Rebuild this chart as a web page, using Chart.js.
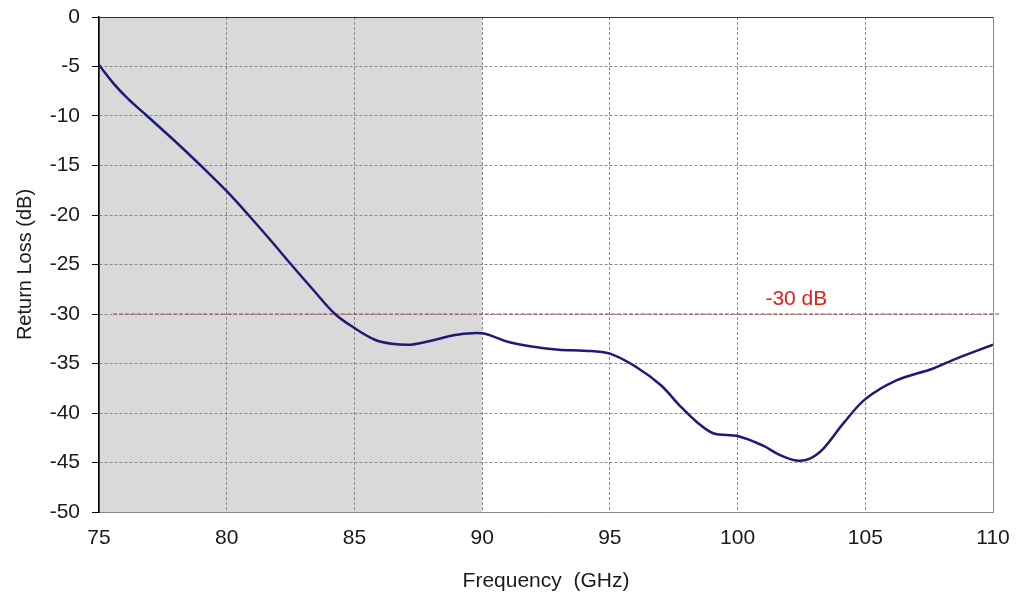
<!DOCTYPE html>
<html>
<head>
<meta charset="utf-8">
<script src="https://cdn.jsdelivr.net/npm/chart.js@4/dist/chart.umd.min.js"></script>
<style>
  html,body{margin:0;padding:0;background:#fff;}
  #wrap{width:1020px;height:599px;}
</style>
</head>
<body>
<div id="wrap"><canvas id="myChart" width="1020" height="599"></canvas></div>
<script>
'use strict';
const freq=[75,75.6,76.15,76.8,78,78.9,80,80.85,81.7,82.54,83.4,84.24,85.02,85.8,86.45,87.2,88,89,90,91,92,93,94,95,96,97,97.75,98.4,99.05,100.03,101,101.66,102.31,102.83,103.36,104.14,105,106.22,107.66,108.57,110];
const returnLoss=[-4.85,-6.8,-8.3,-9.8,-12.6,-14.8,-17.6,-20,-22.5,-25.05,-27.6,-30,-31.45,-32.6,-33.0,-33.1,-32.7,-32.1,-31.95,-32.8,-33.3,-33.6,-33.7,-34.0,-35.3,-37.2,-39.3,-40.9,-42.05,-42.35,-43.3,-44.25,-44.8,-44.6,-43.6,-41.05,-38.6,-36.7,-35.5,-34.5,-33.1];

const limitX=[75.55,110.27];
const limitY=[-30,-30];
const limitLabel='-30 dB';
const limitLabelAt=[102.3,-28.55];

const shadeFrom=75;
const shadeTo=90;

const xMin=75, xMax=110, xStep=5;
const yMin=-50, yMax=0, yStep=5;

const fontFamily='"Liberation Sans", Arial, sans-serif';

let curve=[];
for (let i = 0; i < freq.length; i++) {
  curve.push({x:freq[i],y:returnLoss[i]});
}
let limit=[];
for (let i = 0; i < limitX.length; i++) {
  limit.push({x:limitX[i],y:limitY[i]});
}

// gray band behind the grid + the red "-30 dB" text
const extras={
  id:'extras',
  beforeDraw(chart){
    const {ctx,scales:{x,y}}=chart;
    ctx.save();
    ctx.fillStyle='#d9d9d9';
    let left=x.getPixelForValue(shadeFrom);
    let right=x.getPixelForValue(shadeTo);
    ctx.fillRect(left,y.top,right-left,y.bottom-y.top);
    ctx.restore();
  },
  afterDraw(chart){
    const {ctx,scales:{x,y}}=chart;
    ctx.save();
    ctx.fillStyle='#e0201c';
    ctx.font='21px '+fontFamily;
    ctx.textAlign='center';
    ctx.textBaseline='middle';
    ctx.fillText(limitLabel,x.getPixelForValue(limitLabelAt[0]),y.getPixelForValue(limitLabelAt[1]));
    ctx.restore();
  }
};

function edgeDash(ctx){
  if(ctx.tick && (ctx.index===0 || ctx.index===ctx.scale.ticks.length-1)) return [];
  return [3,2];
}

Chart.defaults.font.family=fontFamily;
Chart.defaults.color='#1a1a1a';

let ctx=document.getElementById('myChart').getContext('2d');
let chart=new Chart(ctx,{
  type:'line',
  data:{
    datasets:[{
      label:'Return loss',
      data:curve,
      borderColor:'#1c1c78',
      borderWidth:2.5,
      pointRadius:0,
      tension:0.35,
      fill:false
    },
    {
      label:'Limit',
      data:limit,
      borderColor:'#b83a3a',
      borderWidth:1.2,
      borderDash:[4,2],
      pointRadius:0,
      clip:false,
      fill:false
    }]
  },
  options:{
    responsive:false,
    animation:false,
    layout:{padding:{left:13,right:27,top:17,bottom:0}},
    plugins:{legend:{display:false},tooltip:{enabled:false}},
    scales:{
      x:{
        type:'linear',
        min:xMin,max:xMax,
        ticks:{stepSize:xStep,padding:14,font:{size:21},color:'#1a1a1a',maxRotation:0},
        grid:{color:'#8a8a8a',lineWidth:1,drawTicks:false},
        border:{display:true,color:'#8a8a8a',width:1,dash:edgeDash},
        title:{display:true,text:'Frequency  (GHz)',font:{size:21},color:'#1a1a1a',padding:{top:6,bottom:5}},
        afterFit(scale){scale.height=87;scale.paddingLeft=0;scale.paddingRight=0;}
      },
      y:{
        type:'linear',
        min:yMin,max:yMax,
        ticks:{stepSize:yStep,padding:12,font:{size:21},color:'#1a1a1a'},
        grid:{color:(c)=>c.index===c.scale.ticks.length-1?'#333':'#8a8a8a',lineWidth:1,tickLength:7,tickColor:'#000'},
        border:{display:true,color:'#000',width:1.5,dash:edgeDash},
        title:{display:true,text:'Return Loss (dB)',font:{size:20},color:'#1a1a1a',padding:{top:0,bottom:4}},
        afterFit(scale){scale.width=86;scale.paddingTop=0;scale.paddingBottom=0;}
      }
    }
  },
  plugins:[extras]
});
</script>
</body>
</html>
